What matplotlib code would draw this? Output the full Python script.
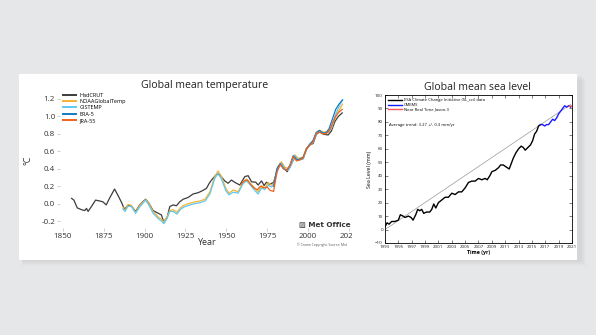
import matplotlib
matplotlib.use("Agg")
import matplotlib.pyplot as plt
from matplotlib.patches import Rectangle

plt.rcParams['font.family'] = ['Open Sans', 'DejaVu Sans']

# --- temperature (anomalies, 5-year smoothed) ---
had_years = [1855.3, 1856.7, 1858.8, 1861.4, 1863.4, 1864.4, 1865.4, 1867.4, 1870, 1872.5,
             1874.5, 1876.5, 1878.5, 1881.6, 1883.6, 1885.7, 1887.7, 1889.8, 1891.8, 1894.5,
             1897, 1900.6, 1902.7, 1905.2, 1908.2, 1910.3, 1911.5, 1912.5, 1913.8, 1915.4,
             1917.5, 1919.5, 1921.5, 1923.6, 1926.6, 1929.7, 1932.8, 1935.4, 1937.9, 1939.5,
             1941, 1944, 1946, 1949.1, 1951.1, 1953.2, 1955.2, 1958.3, 1961.4, 1963.4,
             1965.5, 1968.1, 1969.5, 1971.6, 1973.2, 1974.6, 1976.6, 1979.1, 1981.7, 1983.8,
             1985.8, 1987.3, 1989.3, 1992, 1994, 1997.1, 1999.1, 2001.2, 2003.2, 2005.2,
             2007.3, 2009.7, 2012.4, 2014.4, 2016.5, 2018.5, 2021]
had_vals = [0.06, 0.04, -0.05, -0.07, -0.08, -0.055, -0.09, -0.035, 0.04, 0.03,
            0.02, -0.015, 0.06, 0.167, 0.098, 0.02, -0.066, -0.02, -0.025, -0.09,
            -0.015, 0.05, 0.003, -0.08, -0.11, -0.13, -0.2, -0.19, -0.16, -0.035,
            -0.015, -0.025, 0.02, 0.05, 0.07, 0.11, 0.125, 0.148, 0.175, 0.23,
            0.27, 0.336, 0.33, 0.26, 0.233, 0.27, 0.244, 0.213, 0.31, 0.32,
            0.25, 0.245, 0.213, 0.26, 0.207, 0.245, 0.22, 0.245, 0.42, 0.46,
            0.397, 0.366, 0.43, 0.538, 0.50, 0.52, 0.634, 0.672, 0.69, 0.795,
            0.825, 0.795, 0.787, 0.833, 0.94, 0.997, 1.04]

noaa_years = [1886.7, 1888, 1889.8, 1891.8, 1894.5, 1897, 1900.6, 1902.7, 1905.2, 1908.2,
              1910.3, 1911.8, 1913.8, 1915.4, 1917.5, 1919.8, 1921.8, 1924, 1927, 1931,
              1934, 1937, 1940, 1943, 1945, 1947.1, 1949.7, 1951.7, 1954.2, 1957.3,
              1960.3, 1962.4, 1964.4, 1967.5, 1969.5, 1971.6, 1973.6, 1975.7, 1977.7, 1979.1,
              1981.7, 1983.8, 1985.8, 1987.9, 1989.9, 1992, 1994, 1997.1, 1999.1, 2001.2,
              2003.2, 2005.2, 2007.3, 2009.7, 2012.4, 2014.4, 2016.5, 2018.5, 2021.2]
noaa_vals = [-0.04, -0.08, -0.01, -0.02, -0.1, -0.02, 0.045, 0.0, -0.09, -0.15,
             -0.18, -0.21, -0.15, -0.08, -0.07, -0.1, -0.05, -0.02, 0.0, 0.02,
             0.03, 0.05, 0.136, 0.31, 0.374, 0.31, 0.175, 0.118, 0.156, 0.136,
             0.25, 0.28, 0.24, 0.175, 0.136, 0.205, 0.18, 0.24, 0.21, 0.23,
             0.42, 0.48, 0.42, 0.40, 0.46, 0.56, 0.52, 0.53, 0.634, 0.68,
             0.71, 0.82, 0.84, 0.82, 0.83, 0.86, 0.98, 1.05, 1.14]

gis_years = noaa_years
gis_vals = [-0.06, -0.09, -0.03, -0.03, -0.11, -0.04, 0.04, -0.02, -0.11, -0.17,
            -0.2, -0.23, -0.17, -0.09, -0.09, -0.12, -0.07, -0.04, -0.02, 0.0,
            0.01, 0.03, 0.11, 0.29, 0.35, 0.28, 0.15, 0.10, 0.13, 0.12,
            0.23, 0.26, 0.22, 0.15, 0.11, 0.18, 0.16, 0.21, 0.19, 0.21,
            0.40, 0.46, 0.40, 0.38, 0.45, 0.55, 0.50, 0.51, 0.62, 0.67,
            0.70, 0.80, 0.83, 0.81, 0.82, 0.87, 1.00, 1.09, 1.19]

jra_years = [1959, 1961, 1963, 1965, 1967, 1969, 1971, 1973, 1975, 1977, 1979, 1981, 1983,
             1985, 1987, 1989, 1991, 1993, 1995, 1997, 1999, 2001, 2003, 2005, 2007, 2009,
             2011, 2013, 2015, 2017, 2019, 2021]
jra_vals = [0.22, 0.26, 0.27, 0.22, 0.18, 0.16, 0.20, 0.18, 0.19, 0.15, 0.14, 0.36, 0.45,
            0.40, 0.38, 0.44, 0.54, 0.49, 0.50, 0.52, 0.62, 0.67, 0.70, 0.80, 0.82, 0.80,
            0.80, 0.83, 0.92, 1.0, 1.05, 1.08]

era_years = [1979, 1981, 1983, 1985, 1987, 1989, 1991, 1993, 1995, 1997, 1999, 2001, 2003,
             2005, 2007, 2009, 2011, 2013, 2015, 2017, 2019, 2021.2]
era_vals = [0.2, 0.40, 0.46, 0.40, 0.38, 0.44, 0.55, 0.50, 0.51, 0.53, 0.62, 0.68, 0.72,
            0.81, 0.84, 0.81, 0.81, 0.86, 0.97, 1.08, 1.14, 1.19]

temp_series = [
    ("HadCRUT", had_years, had_vals, "#3c3c3c"),
    ("NOAAGlobalTemp", noaa_years, noaa_vals, "#f5b335"),
    ("GISTEMP", gis_years, gis_vals, "#5ec8f2"),
    ("ERA-5", era_years, era_vals, "#1679c0"),
    ("JRA-55", jra_years, jra_vals, "#f0621c"),
]

# --- sea level ---
esa_years = [1993.0, 1993.3, 1993.6, 1994.0, 1994.5, 1995.0, 1995.3, 1995.7, 1996.0, 1996.5,
             1996.9, 1997.2, 1997.6, 1997.9, 1998.2, 1998.5, 1998.8, 1999.2, 1999.7, 2000.0,
             2000.3, 2000.6, 2001.0, 2001.5, 2002.0, 2002.5, 2003.0, 2003.5, 2004.0, 2004.5,
             2005.0, 2005.5, 2006.0, 2006.5, 2007.0, 2007.5, 2008.0, 2008.3, 2008.7, 2009.0,
             2009.5, 2010.0, 2010.3, 2010.7, 2011.0, 2011.3, 2011.6, 2011.9, 2012.2, 2012.6,
             2013.0, 2013.4, 2013.7, 2014.0, 2014.4, 2014.8, 2015.1, 2015.4, 2015.7, 2016.0,
             2016.3]
esa_vals = [2, 5, 4, 6, 6, 7, 11, 10, 9, 10,
            9, 7, 11, 15, 14, 15, 12, 13, 13, 15,
            19, 16, 20, 22, 24, 24, 27, 26, 28, 28,
            31, 35, 36, 36, 38, 37, 38, 37, 40, 43,
            44, 46, 48, 48, 47, 46, 45, 49, 53, 57,
            60, 62, 61, 59, 61, 63, 66, 71, 73, 77,
            78]
cmems_years = [2016.3, 2016.6, 2016.9, 2017.2, 2017.5, 2017.8, 2018.1, 2018.4, 2018.7, 2019.0,
               2019.3, 2019.6, 2019.9, 2020.2, 2020.5, 2020.8]
cmems_vals = [78, 78, 77, 78, 78, 80, 82, 81, 83, 86, 88, 90, 92, 91, 92, 91]
jason_years = [2020.6, 2020.9, 2021.2]
jason_vals = [91.5, 92, 90.5]
trend_years = [1993, 2020.8]
trend_vals = [0, 93]

W, H = 596, 335


def px(l, t, r, b):
    return [l / W, 1 - b / H, (r - l) / W, (b - t) / H]


fig = plt.figure(figsize=(W / 100, H / 100), dpi=100)
fig.patch.set_facecolor("#e6e7e9")

# shadow + card
for i, a in enumerate([0.05, 0.07, 0.09]):
    d = 6 - 2 * i
    fig.add_artist(Rectangle((22 / W, 1 - (260 + d) / H), (558 + d) / W, 186 / H,
                             transform=fig.transFigure, facecolor="#9a9a9a", alpha=a,
                             edgecolor="none", zorder=0.1))
fig.add_artist(Rectangle((19 / W, 1 - 260 / H), 558 / W, 186 / H, transform=fig.transFigure,
                         facecolor="white", edgecolor="none", zorder=0.2))

# ---- left chart ----
ax = fig.add_axes(px(60, 92, 352, 228), zorder=1)
ax.set_facecolor("none")
for name, xs, ys, c in temp_series:
    ax.plot(xs, ys, color=c, lw=0.9, label=name)
ax.set_xlim(1848.2, 2027)
ax.set_ylim(-0.28, 1.28)
ax.set_xticks([1850, 1875, 1900, 1925, 1950, 1975, 2000, 2025])
ax.set_yticks([-0.2, 0.0, 0.2, 0.4, 0.6, 0.8, 1.0, 1.2])
ax.yaxis.set_major_formatter(matplotlib.ticker.FormatStrFormatter("%.1f"))
for s in ax.spines.values():
    s.set_visible(False)
ax.tick_params(length=2, width=0.5, color="#bbbbbb", labelsize=5.8, labelcolor="#333333", pad=1.5)
ax.set_xlabel("Year", fontsize=6.5, color="#333333", labelpad=-1)
ax.set_ylabel("°C", fontsize=6.5, color="#333333", labelpad=6)
leg = ax.legend(loc="upper left", bbox_to_anchor=(0.0, 1.02), frameon=False, fontsize=4,
                handlelength=2.3, handletextpad=0.6, labelspacing=0.25, borderaxespad=0.2)
for line in leg.get_lines():
    line.set_linewidth(1.4)

fig.text(205 / W, 1 - 85 / H, "Global mean temperature", fontsize=7.6, ha="center",
         va="center", color="#222222")
fig.text(351 / W, 1 - 224 / H, "▨ Met Office", fontsize=5.2, ha="right", va="center",
         fontweight="bold", color="#333333", family=["DejaVu Sans"])
fig.text(297 / W, 1 - 245 / H, "© Crown Copyright. Source: Met", fontsize=2.4, ha="left",
         va="center", color="#555555")

# white panel of the right image (covers the end of the left chart)
fig.add_artist(Rectangle((352 / W, 1 - 259 / H), 224 / W, 184 / H, transform=fig.transFigure,
                         facecolor="white", edgecolor="none", zorder=1.5))

# ---- right chart ----
ax2 = fig.add_axes(px(385, 95, 572, 243), zorder=2)
ax2.plot(trend_years, trend_vals, color="#999999", lw=0.5)
ax2.plot(esa_years, esa_vals, color="black", lw=1.0,
         label="ESA Climate Change Initiative (SL_cci) data")
ax2.plot(cmems_years, cmems_vals, color="#1a1aff", lw=1.0, label="CMEMS")
ax2.plot(jason_years, jason_vals, color="#ff5555", lw=1.0, label="Near Real Time Jason-3")
ax2.set_xlim(1993, 2021)
ax2.set_ylim(-10, 100)
ax2.set_xticks(range(1993, 2022, 2))
ax2.set_yticks(range(-10, 101, 10))
for s in ax2.spines.values():
    s.set_linewidth(0.6)
ax2.tick_params(direction="in", top=True, right=True, length=2, width=0.4, labelsize=3.2,
                pad=1.5, colors="#222222")
ax2.set_xlabel("Time (yr)", fontsize=3.8, fontweight="bold", labelpad=1)
ax2.set_ylabel("Sea Level (mm)", fontsize=3.8, labelpad=2)
ax2.legend(loc="upper left", frameon=False, fontsize=3.0, handlelength=3.2,
           handletextpad=0.5, labelspacing=0.15, borderaxespad=0.4)
ax2.text(0.02, 0.80, "Average trend: 3.27 +/- 0.3 mm/yr", transform=ax2.transAxes,
         fontsize=3.0, va="center")

fig.text(477 / W, 1 - 87 / H, "Global mean sea level", fontsize=7.6, ha="center",
         va="center", color="#222222")

plt.savefig("out.png", dpi=100, facecolor=fig.get_facecolor())
